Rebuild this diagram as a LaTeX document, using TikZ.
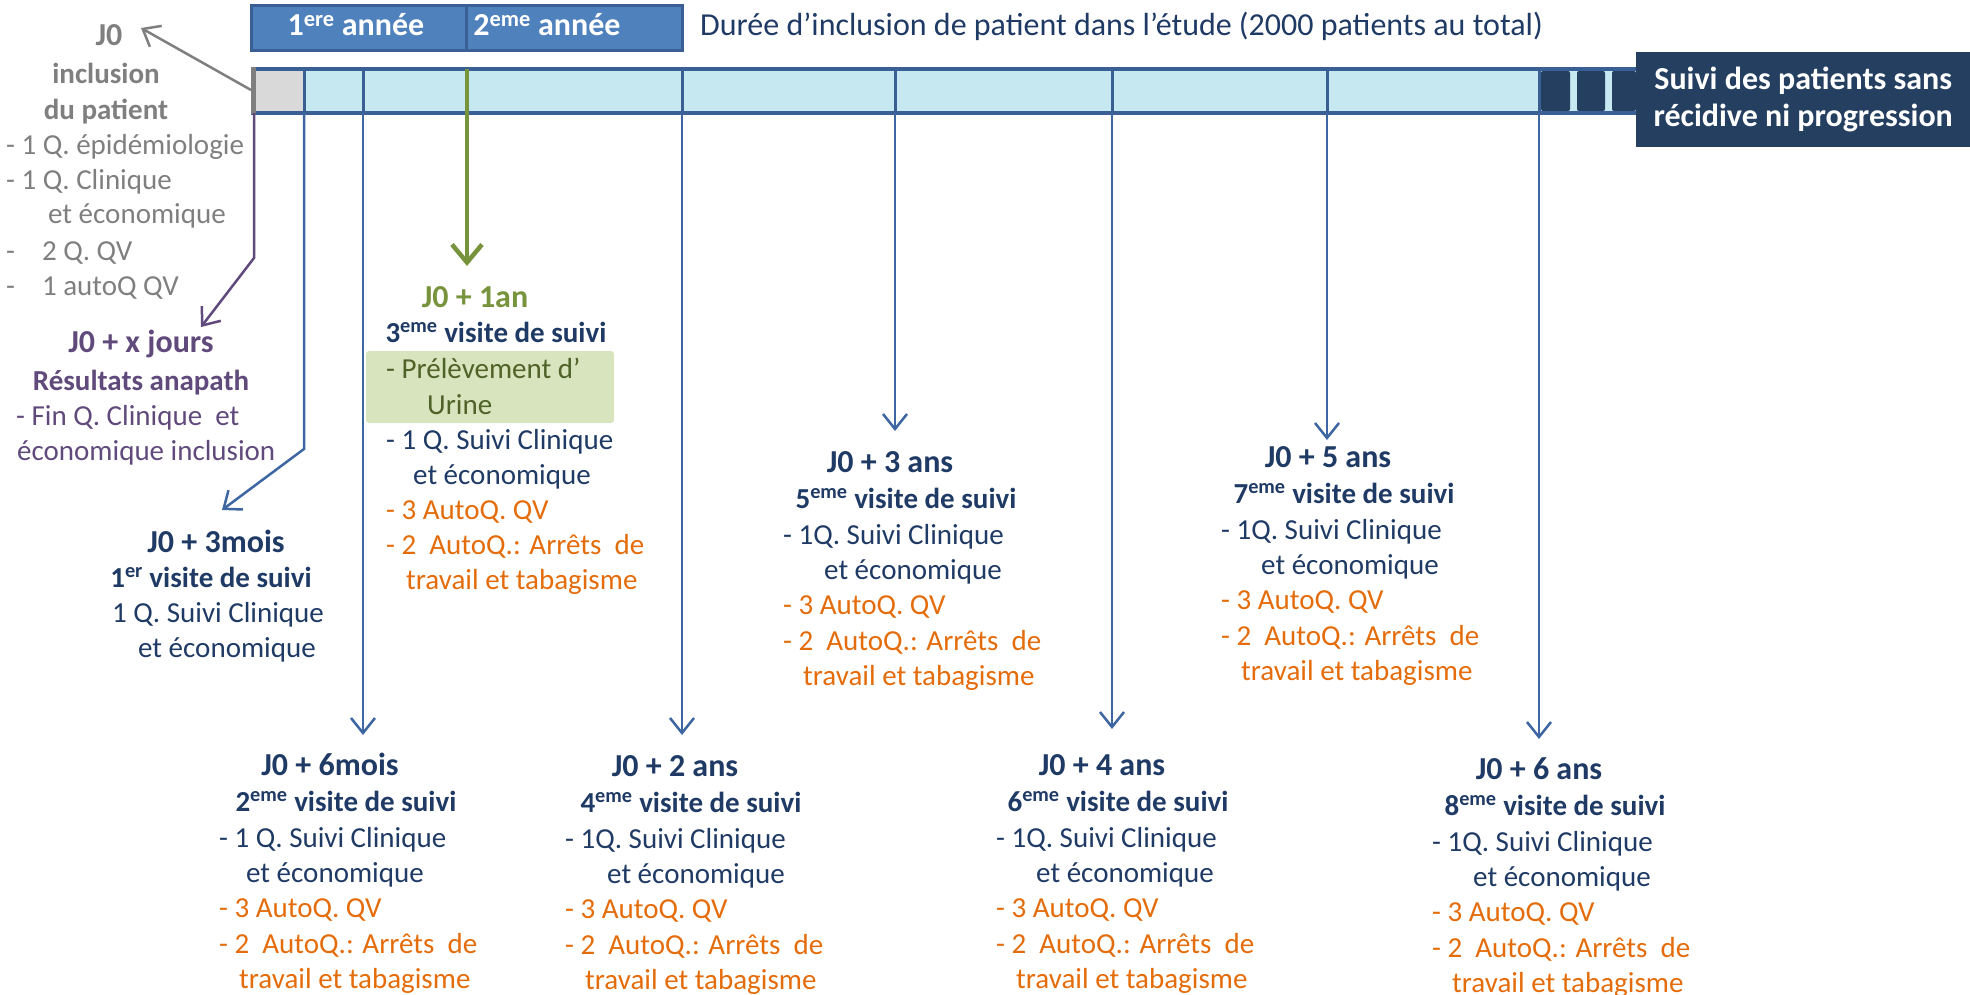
\documentclass[tikz,border=0pt]{standalone}
\usepackage{fontspec}
\setmainfont{Carlito}
\usetikzlibrary{arrows.meta}
\definecolor{navy}{HTML}{253F61}
\definecolor{dblue}{HTML}{1F3A64}
\definecolor{barfill}{HTML}{C5E8F1}
\definecolor{barline}{HTML}{3A5F95}
\definecolor{lblue}{HTML}{3D66A2}
\definecolor{boxblue}{HTML}{4F81BD}
\definecolor{orng}{HTML}{E46C0A}
\definecolor{grn}{HTML}{77933C}
\definecolor{grnfill}{HTML}{D7E4BD}
\definecolor{dgrn}{HTML}{4F6228}
\definecolor{purp}{HTML}{604A7B}
\definecolor{gry}{HTML}{7F7F7F}
\definecolor{segfill}{HTML}{D9D9D9}
\newcommand{\stdvisit}[8]{%
 \node[T,text=dblue] (#1-t) at (#4,#5+10) {#2};
 \node[C,text=dblue] (#1-v) at (#4+16,#5+46) {#3\textsuperscript{eme} visite de suivi};
 \node[L,text=dblue] (#1-a) at (#6,#5+82) {- #7 Suivi Clinique};
 \node[L,text=dblue] (#1-b) at (#6+#8,#5+117.3) {et économique};
 \node[L,text=orng] (#1-c) at (#6,#5+152.6) {- 3 AutoQ. QV};
 \node[L,text=orng] (#1-d) at (#6,#5+188) {- 2\ \ AutoQ.: Arrêts\ \ de};
 \node[L,text=orng] (#1-e) at (#6+20,#5+223.3) {travail et tabagisme};
}
\begin{document}
\begin{tikzpicture}[x=1pt,y=-1pt,
 L/.style={anchor=base west,inner sep=0pt,font=\fontsize{29}{35}\selectfont},
 C/.style={anchor=base,inner sep=0pt,font=\fontsize{29}{35}\selectfont\bfseries},
 T/.style={anchor=base,inner sep=0pt,font=\fontsize{32}{38}\selectfont\bfseries},
 arr/.style={draw=lblue,line width=2.5pt,-{Straight Barb[length=15pt,width=24pt]}},
]
\useasboundingbox (0,0) rectangle (1970,995);

% ---- year box
\draw[fill=boxblue,draw=barline,line width=3pt] (251,6) rectangle (682,51);
\draw[barline,line width=3pt] (466,6) -- (466,51);
\node[T,text=white] (y1) at (356,36) {1\textsuperscript{ere} année};
\node[T,text=white] (y2) at (547,36) {2\textsuperscript{eme} année};
\node[anchor=base west,inner sep=0pt,font=\fontsize{32}{38}\selectfont,text=dblue] (dur) at (700,36) {Durée d’inclusion de patient dans l’étude (2000 patients au total)};

% ---- timeline bar
\fill[barfill] (251,69) rectangle (1636,113);
\fill[segfill] (251,69) rectangle (304,113);
\fill[navy,rounded corners=2pt] (1541,71) rectangle (1570,111);
\fill[navy,rounded corners=2pt] (1577,71) rectangle (1605,111);
\fill[navy,rounded corners=2pt] (1612,71) rectangle (1636,111);
\draw[barline,line width=3.5pt] (251,69) -- (1636,69) (251,113) -- (1636,113);
\foreach \xx in {304,363,682,895,1112,1327,1539}
  \draw[barline,line width=3pt] (\xx,69) -- (\xx,113);
\draw[gry,line width=5pt] (253,67) -- (253,114);
\node[fill=navy,text=white,font=\fontsize{32}{37}\selectfont\bfseries,align=center,
      anchor=north west,minimum width=334pt,minimum height=95pt,inner sep=0pt] (suivi) at (1636,52)
      {Suivi des patients sans\\récidive ni progression};

% ---- bar coordinates
\coordinate (b0) at (251,90);
\coordinate (bp) at (254,113);
\coordinate (b3m) at (304,113);
\coordinate (b6m) at (363,113);
\coordinate (b1a) at (467,69);
\coordinate (b2a) at (682,113);
\coordinate (b3a) at (895,113);
\coordinate (b4a) at (1112,113);
\coordinate (b5a) at (1327,113);
\coordinate (b6a) at (1539,113);
\coordinate (e0) at (141,28);
\coordinate (ep) at (201,327);
\coordinate (e3m) at (222,510);
\coordinate (e6m) at (363,735);
\coordinate (e1a) at (467,266);
\coordinate (e2a) at (682,735);
\coordinate (e3a) at (895,431);
\coordinate (e4a) at (1112,729);
\coordinate (e5a) at (1327,440);
\coordinate (e6a) at (1539,739);

% ---- connectors
\draw[arr,draw=gry] (b0) -- (e0);
\draw[arr,draw=purp] (bp) -- (254,258) -- (ep);
\draw[arr] (b3m) -- (304,449) -- (e3m);
\draw[arr] (b6m) -- (e6m);
\draw[arr,draw=grn,line width=4.5pt,-{Straight Barb[length=18pt,width=30pt]}] (b1a) -- (e1a);
\draw[arr] (b2a) -- (e2a);
\draw[arr] (b3a) -- (e3a);
\draw[arr] (b4a) -- (e4a);
\draw[arr] (b5a) -- (e5a);
\draw[arr] (b6a) -- (e6a);

% ---- J0 inclusion (grey)
\node[T,text=gry] (j0) at (109,46) {J0};
\node[C,text=gry] (j0a) at (106,84) {inclusion};
\node[C,text=gry] (j0b) at (106,120) {du patient};
\node[L,text=gry] (j0c) at (6,155) {- 1 Q. épidémiologie};
\node[L,text=gry] (j0d) at (6,190) {- 1 Q. Clinique};
\node[L,text=gry] (j0e) at (48,224) {et économique};
\node[L,text=gry] (j0f) at (6,260) {-\hspace*{27pt}2 Q. QV};
\node[L,text=gry] (j0g) at (6,295) {-\hspace*{27pt}1 autoQ QV};

% ---- J0 + x jours (purple)
\node[T,text=purp] (jx) at (141,352) {J0 + x jours};
\node[C,text=purp] (jxa) at (141,390) {Résultats anapath};
\node[L,text=purp] (jxb) at (16,425) {- Fin Q. Clinique\ \ et};
\node[L,text=purp] (jxc) at (17,460) {économique inclusion};

% ---- J0 + 3mois
\node[T,text=dblue] (m3) at (216,552) {J0 + 3mois};
\node[C,text=dblue] (m3a) at (211,587) {1\textsuperscript{er} visite de suivi};
\node[L,text=dblue] (m3b) at (112,622) {1 Q. Suivi Clinique};
\node[L,text=dblue] (m3c) at (138,657) {et économique};

% ---- J0 + 1an
\fill[grnfill,rounded corners=3pt] (366,351) rectangle (614,423);
\node[T,text=grn] (a1) at (475,307) {J0 + 1an};
\node[C,text=dblue] (a1a) at (496,342) {3\textsuperscript{eme} visite de suivi};
\node[L,text=dgrn] (a1b) at (386,378) {- Prélèvement d’};
\node[L,text=dgrn] (a1c) at (427,414) {Urine};
\node[L,text=dblue] (a1d) at (386,449) {- 1 Q. Suivi Clinique};
\node[L,text=dblue] (a1e) at (413,484) {et économique};
\node[L,text=orng] (a1f) at (386,519) {- 3 AutoQ. QV};
\node[L,text=orng] (a1g) at (386,554) {- 2\ \ AutoQ.: Arrêts\ \ de};
\node[L,text=orng] (a1h) at (406,589) {travail et tabagisme};

% ---- standard visits
\stdvisit{m6}{J0 + 6mois}{2}{330}{765}{219}{1 Q.}{27}
\stdvisit{a2}{J0 + 2 ans}{4}{675}{766}{565}{1Q.}{42}
\stdvisit{a3}{J0 + 3 ans}{5}{890}{462}{783}{1Q.}{41}
\stdvisit{a4}{J0 + 4 ans}{6}{1102}{765}{996}{1Q.}{40}
\stdvisit{a5}{J0 + 5 ans}{7}{1328}{457}{1221}{1Q.}{40}
\stdvisit{a6}{J0 + 6 ans}{8}{1539}{769}{1432}{1Q.}{41}
\end{tikzpicture}
\end{document}
